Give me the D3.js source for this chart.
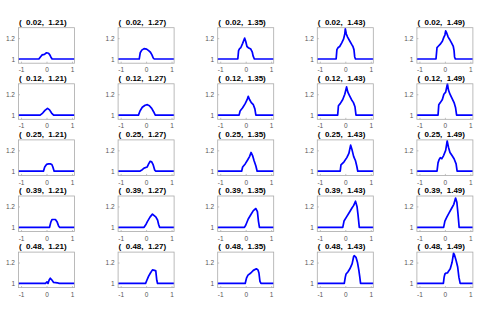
<!DOCTYPE html>
<html>
<head>
<meta charset="utf-8">
<script src="https://cdn.jsdelivr.net/npm/d3@7"></script>
<style>
  html, body { margin: 0; padding: 0; background: #fff; }
  svg { display: block; }
  .title { font-family: "Liberation Sans", Arial, sans-serif; font-weight: bold; font-size: 8px; fill: #000; white-space: pre; }
  .axis text { font-family: "Liberation Sans", Arial, sans-serif; font-size: 6.5px; fill: #555; }
  .axis path { display: none; }
  .axis line { stroke: #999; stroke-width: 0.6; }
</style>
</head>
<body>
<div id="chart"></div>
<script>
// panel parameters (row = first value, column = second value)
const rowValues = [0.02, 0.12, 0.25, 0.39, 0.48];
const colValues = [1.21, 1.27, 1.35, 1.43, 1.49];

const xTicks = [-1, 0, 1];
const yTicks = [1, 1.2];

// curves, one list of [x, y] per panel
const row1Curves = [
  [[-1.1,1],[-0.3,1],[-0.24,1.02],[-0.17,1.04],[-0.08,1.045],[0,1.06],[0.08,1.055],[0.13,1.04],[0.17,1.02],[0.22,1],[1.1,1]],
  [[-1.1,1],[-0.27,1],[-0.23,1.06],[-0.17,1.085],[-0.08,1.1],[0.02,1.095],[0.1,1.08],[0.17,1.065],[0.23,1.04],[0.28,1.01],[0.32,1],[1.1,1]],
  [[-1.1,1],[-0.31,1],[-0.28,1.08],[-0.24,1.1],[-0.19,1.11],[-0.12,1.15],[-0.04,1.2],[0.0,1.17],[0.05,1.12],[0.12,1.105],[0.2,1.095],[0.26,1.065],[0.29,1.03],[0.34,1],[1.1,1]],
  [[-1.1,1],[-0.36,1],[-0.33,1.09],[-0.28,1.11],[-0.22,1.12],[-0.14,1.155],[-0.07,1.19],[-0.02,1.24],[0.0,1.29],[0.04,1.24],[0.09,1.21],[0.18,1.17],[0.25,1.14],[0.3,1.12],[0.34,1.09],[0.37,1.02],[0.4,1],[1.1,1]],
  [[-1.1,1],[-0.35,1],[-0.31,1.11],[-0.27,1.12],[-0.19,1.14],[-0.1,1.17],[-0.04,1.21],[0.0,1.23],[0.03,1.27],[0.07,1.25],[0.13,1.21],[0.18,1.19],[0.26,1.155],[0.33,1.12],[0.36,1.08],[0.38,1.02],[0.41,1],[1.1,1]]
];
const row2Curves = [
  [[-1.1,1],[-0.25,1],[-0.15,1.02],[-0.06,1.045],[0.04,1.065],[0.12,1.05],[0.2,1.02],[0.28,1],[1.1,1]],
  [[-1.1,1],[-0.3,1],[-0.24,1.04],[-0.15,1.075],[-0.04,1.095],[0.05,1.1],[0.13,1.09],[0.22,1.065],[0.3,1.03],[0.36,1],[1.1,1]],
  [[-1.1,1],[-0.26,1],[-0.22,1.04],[-0.12,1.07],[-0.02,1.11],[0.06,1.15],[0.1,1.18],[0.15,1.15],[0.22,1.12],[0.3,1.1],[0.36,1.06],[0.4,1],[1.1,1]],
  [[-1.1,1],[-0.3,1],[-0.27,1.09],[-0.2,1.11],[-0.1,1.15],[-0.02,1.2],[0.05,1.27],[0.1,1.22],[0.16,1.19],[0.24,1.15],[0.32,1.12],[0.38,1.08],[0.42,1],[1.1,1]],
  [[-1.1,1],[-0.27,1],[-0.24,1.1],[-0.18,1.12],[-0.1,1.15],[-0.04,1.2],[0.03,1.22],[0.1,1.3],[0.14,1.24],[0.2,1.2],[0.28,1.16],[0.36,1.12],[0.42,1.07],[0.46,1],[1.1,1]]
];
const row3Curves = [
  [[-1.1,1],[-0.12,1],[-0.07,1.04],[0,1.065],[0.08,1.07],[0.15,1.07],[0.21,1.065],[0.25,1.04],[0.3,1],[1.1,1]],
  [[-1.1,1],[-0.25,1],[-0.15,1.015],[-0.08,1.03],[0.04,1.04],[0.1,1.07],[0.16,1.095],[0.22,1.09],[0.28,1.06],[0.34,1.01],[0.38,1],[1.1,1]],
  [[-1.1,1],[-0.16,1],[-0.12,1.04],[-0.02,1.07],[0.08,1.11],[0.15,1.14],[0.21,1.18],[0.27,1.15],[0.33,1.1],[0.4,1.05],[0.45,1],[1.1,1]],
  [[-1.1,1],[-0.2,1],[-0.17,1.06],[-0.05,1.09],[0.06,1.13],[0.14,1.17],[0.21,1.25],[0.27,1.2],[0.33,1.14],[0.4,1.1],[0.45,1.05],[0.49,1],[1.1,1]],
  [[-1.1,1],[-0.31,1],[-0.27,1.08],[-0.23,1.11],[-0.18,1.13],[-0.12,1.12],[-0.05,1.15],[0.03,1.2],[0.09,1.29],[0.14,1.23],[0.2,1.18],[0.28,1.15],[0.36,1.12],[0.44,1.07],[0.48,1],[1.1,1]]
];
const row4Curves = [
  [[-1.1,1],[0.12,1],[0.17,1.05],[0.22,1.075],[0.35,1.075],[0.42,1.05],[0.48,1.01],[0.52,1],[1.1,1]],
  [[-1.1,1],[-0.08,1],[0.0,1.03],[0.05,1.055],[0.16,1.1],[0.25,1.126],[0.33,1.11],[0.38,1.1],[0.45,1.07],[0.49,1.03],[0.53,1],[1.1,1]],
  [[-1.1,1],[-0.05,1],[0.0,1.02],[0.1,1.08],[0.2,1.12],[0.3,1.16],[0.4,1.18],[0.46,1.15],[0.5,1.06],[0.54,1],[1.1,1]],
  [[-1.1,1],[-0.1,1],[-0.05,1.06],[0.05,1.1],[0.15,1.14],[0.25,1.18],[0.33,1.21],[0.4,1.25],[0.46,1.2],[0.5,1.12],[0.55,1],[1.1,1]],
  [[-1.1,1],[-0.05,1],[0.0,1.06],[0.08,1.1],[0.17,1.14],[0.26,1.18],[0.35,1.22],[0.42,1.28],[0.47,1.24],[0.51,1.14],[0.56,1],[1.1,1]]
];
const row5Curves = [
  [[-1.1,1],[-0.04,1],[0.02,1.015],[0.06,1.0],[0.1,1.03],[0.15,1.05],[0.22,1.03],[0.28,1.01],[0.36,1.008],[0.42,1.006],[0.5,1],[1.1,1]],
  [[-1.1,1],[-0.02,1],[0.03,1.03],[0.1,1.07],[0.17,1.1],[0.25,1.13],[0.33,1.125],[0.38,1.12],[0.42,1.03],[0.45,1],[1.1,1]],
  [[-1.1,1],[-0.02,1],[0.03,1.05],[0.09,1.08],[0.2,1.1],[0.3,1.125],[0.42,1.14],[0.48,1.13],[0.52,1.1],[0.56,1.02],[0.6,1],[1.1,1]],
  [[-1.1,1],[-0.04,1],[0.0,1.06],[0.03,1.09],[0.1,1.11],[0.18,1.14],[0.27,1.19],[0.33,1.26],[0.36,1.265],[0.42,1.25],[0.48,1.2],[0.53,1.13],[0.57,1.06],[0.6,1],[1.1,1]],
  [[-1.1,1],[-0.06,1],[-0.03,1.06],[0.0,1.09],[0.05,1.1],[0.1,1.1],[0.15,1.12],[0.21,1.14],[0.28,1.2],[0.34,1.29],[0.38,1.27],[0.44,1.22],[0.5,1.16],[0.55,1.06],[0.6,1],[1.1,1]]
];
const allCurves = [row1Curves, row2Curves, row3Curves, row4Curves, row5Curves];

const W = 479, H = 324;
const left0 = 18.5, colStep = 99.6, panelW = 56;
const top0 = 27.7, rowStep = 56.1, panelH = 35.5;

const svg = d3.select("#chart")
  .append("svg")
  .attr("width", W)
  .attr("height", H);

const x = d3.scaleLinear().domain([-1.1, 1.1]).range([0, panelW]);
const y = d3.scaleLinear().domain([0.96, 1.3]).range([panelH, 0]);

const line = d3.line()
  .x(d => x(d[0]))
  .y(d => y(d[1]));

rowValues.forEach((rv, i) => {
  colValues.forEach((cv, j) => {
    const g = svg.append("g")
      .attr("transform", `translate(${left0 + j * colStep},${top0 + i * rowStep})`);

    g.append("g")
      .attr("class", "axis")
      .attr("transform", `translate(0,${panelH})`)
      .call(d3.axisBottom(x).tickValues(xTicks).tickSize(-1.5).tickPadding(4.5).tickFormat(d => d));

    g.append("g")
      .attr("class", "axis")
      .call(d3.axisLeft(y).tickValues(yTicks).tickSize(-1.5).tickPadding(3.5).tickFormat(d => d));

    g.append("path")
      .datum(allCurves[i][j])
      .attr("fill", "none")
      .attr("stroke", "#0000ff")
      .attr("stroke-width", 1.7)
      .attr("stroke-linejoin", "round")
      .attr("d", line);

    g.append("rect")
      .attr("width", panelW)
      .attr("height", panelH)
      .attr("fill", "none")
      .attr("stroke", "#aaa")
      .attr("stroke-width", 0.8);

    g.append("text")
      .attr("class", "title")
      .attr("x", 0.5)
      .attr("y", -3)
      .text(`(  ${rv.toFixed(2)},  ${cv.toFixed(2)})`);
  });
});
</script>
</body>
</html>
